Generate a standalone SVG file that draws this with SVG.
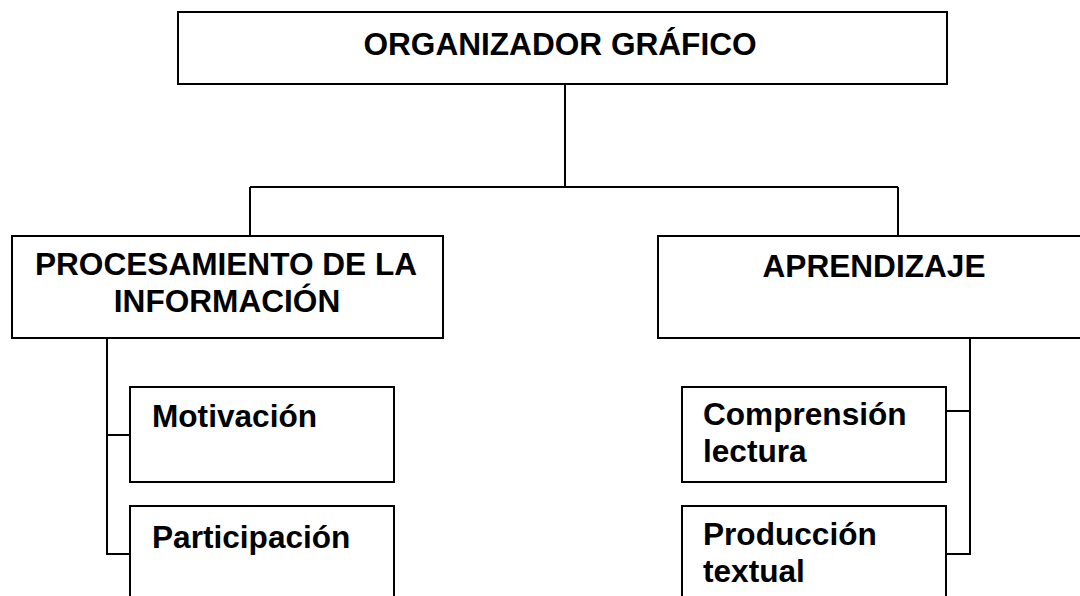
<svg xmlns="http://www.w3.org/2000/svg" width="1080" height="596" viewBox="0 0 1080 596">
<style>
.box{fill:#fff;stroke:#000;stroke-width:2}
.t{font-family:"Liberation Sans",Arial,sans-serif;font-weight:bold;font-size:31.6px;fill:#000}
.c{text-anchor:middle}
.ln{fill:none;stroke:#000;stroke-width:2}
</style>
<rect width="1080" height="596" fill="#fff"/>
<g id="connectors">
<path class="ln" d="M565 84V187M250 187H898M250 187V236M898 187V236"/>
<path class="ln" d="M107 338V554H130M107 435H130"/>
<path class="ln" d="M970 338V554H946M970 411H946"/>
</g>
<g id="root">
<rect class="box" x="178" y="12" width="769" height="72"/>
<text class="t c" x="560" y="55">ORGANIZADOR GRÁFICO</text>
</g>
<g id="procesamiento">
<rect class="box" x="12" y="236" width="431" height="102"/>
<text class="t c" x="226" y="275">PROCESAMIENTO DE LA</text>
<text class="t c" x="227" y="312">INFORMACIÓN</text>
</g>
<g id="aprendizaje">
<rect class="box" x="658" y="236" width="432" height="102"/>
<text class="t c" x="874" y="277">APRENDIZAJE</text>
</g>
<g id="motivacion">
<rect class="box" x="130" y="387" width="264" height="95"/>
<text class="t" x="152" y="427">Motivación</text>
</g>
<g id="participacion">
<rect class="box" x="130" y="506" width="264" height="100"/>
<text class="t" x="152" y="548">Participación</text>
</g>
<g id="comprension">
<rect class="box" x="682" y="387" width="264" height="95"/>
<text class="t" x="703" y="425">Comprensión</text>
<text class="t" x="703" y="462">lectura</text>
</g>
<g id="produccion">
<rect class="box" x="682" y="506" width="264" height="100"/>
<text class="t" x="703" y="545">Producción</text>
<text class="t" x="703" y="582">textual</text>
</g>
</svg>
